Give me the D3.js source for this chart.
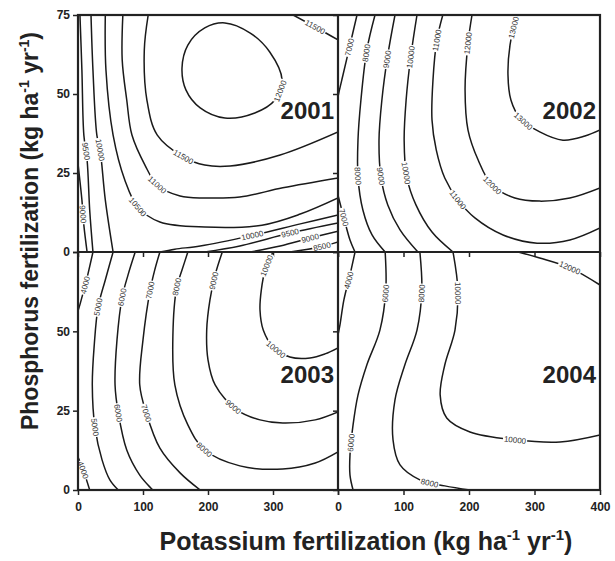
<!DOCTYPE html>
<html>
<head>
<meta charset="utf-8">
<script src="https://cdn.jsdelivr.net/npm/d3@7"></script>
<style>
  body { margin: 0; background: #fff; }
  svg { font-family: "Liberation Sans", Arial, sans-serif; }
</style>
</head>
<body>
<svg id="chart"></svg>
<script>
const width = 615;
const height = 561;

// panel edges in pixels
const xLeft = 78, xMid = 338, xRight = 600;
const yTop = 15, yMid = 252, yBottom = 490;

const years = ["2001", "2002", "2003", "2004"];
const kTicks = [0, 100, 200, 300, 400];
const pTicks = [0, 25, 50, 75];

// contour lines: [level, [[K, P], ...], closed]
const contours2001 = [
  [12000, [[160,58.2],[169,65.5],[195,70.9],[226,72.5],[265,69.3],[295,63.3],[314,54.4],[303,48.1],[272,44],[226,42.4],[188,45.6],[166,51.3]], true],
  [11500, [[331,75],[365,71.2],[400,67.1]]],
  [11500, [[108,75],[102,63.9],[106,48.1],[122,37],[162,30.1],[195,27.5],[234,27.2],[311,30.7],[400,38]]],
  [11000, [[69,75],[68,60.8],[75,48.1],[83,37],[103,27.5],[122,21.2],[157,17.7],[195,17.1],[249,17.4],[315,20.3],[400,23.4]]],
  [10500, [[42,75],[43,57.6],[54,37],[72,22.8],[92,14.2],[126,9.5],[195,7.9],[283,8.5],[342,12],[400,17.1]]],
  [10000, [[20,75],[23,57.6],[29,37],[34,32.3],[42,16.5],[54,0]]],
  [10000, [[126,0],[149,0.9],[188,1.9],[265,5.1],[342,8.9],[400,11.7]]],
  [9500, [[3,75],[6,57.6],[9,37],[14,29.1],[18,13.3],[23,0]]],
  [9500, [[195,0],[249,1.9],[326,6],[400,9.2]]],
  [9000, [[0,28],[6,16.5],[9,8.5],[14,0]]],
  [9000, [[265,0],[311,1.9],[357,4.4],[400,6.6]]],
  [8500, [[326,0],[372,1.6],[400,3.2]]]
];
const labels2001 = [
  [11500, 365, 71.2], [12000, 310, 51], [11500, 162, 30.1], [11000, 122, 21.2],
  [10500, 92, 14.2], [9500, 14, 32], [10000, 34, 32.3], [9000, 8, 12],
  [10000, 268, 5.2], [9500, 326, 6], [9000, 357, 4.4], [8500, 375, 1.8]
];

const contours2002 = [
  [7000, [[29,75],[18.3,65.5],[7.6,56],[1.5,50.6],[0,49]]],
  [7000, [[0,18],[9,10.8],[18.3,3.8],[26,0]]],
  [8000, [[56.5,75],[44,63.9],[35,48.1],[30.5,35.4],[30.5,23.7],[38,13.3],[52,5.4],[72,0]]],
  [9000, [[87,75],[76,62.3],[67,48.1],[62.6,35.4],[65.6,23.7],[76,14.9],[94.7,7],[122,0]]],
  [10000, [[120.6,75],[111,61.7],[104,48.1],[101,35.4],[105,23.7],[119,14.9],[143.5,6.3],[175.6,0]]],
  [11000, [[160,75],[151,67.1],[145,54.4],[143.5,41.8],[150,32.3],[163,23.4],[183,16.5],[209,10.8],[252,5.4],[304,2.8],[354,3.8],[400,7.6]]],
  [12000, [[204.6,75],[198.5,66.1],[194,51.3],[198.5,38.6],[214,29.1],[235,21.2],[270,17.1],[308,16.1],[354,17.1],[400,20.3]]],
  [13000, [[273,75],[262.6,65.5],[259.5,56],[264,48.1],[278,42.4],[308,38],[343.5,35.4],[377,36.7],[400,38.6]]]
];
const labels2002 = [
  [7000, 13.7, 65], [8000, 41, 63], [9000, 75, 61], [10000, 110, 61.7],
  [11000, 151, 67], [12000, 199, 66], [13000, 268, 71], [13000, 283, 41.5],
  [8000, 30.5, 24], [9000, 65, 24], [10000, 104, 25], [11000, 180, 16],
  [12000, 235, 21], [7000, 10, 11]
];

const contours2003 = [
  [4000, [[23,75],[15,67.8],[9,63],[1.5,57.4],[0,56.5]]],
  [4000, [[0,10.4],[8,6.3],[18,0]]],
  [5000, [[54,75],[42,66.2],[31,57.7],[25,45.7],[22,33.1],[26,19.9],[37,9.5],[49,3.2],[62,0]]],
  [6000, [[88,75],[77,67.8],[68,60.8],[60,47.3],[57,33.1],[62,24.3],[75,12.6],[95,4.7],[115,0]]],
  [7000, [[126,75],[118,69.3],[111,63],[100,47.3],[95,33.1],[105,24.3],[126,13.2],[157,5.4],[188,0]]],
  [8000, [[169,75],[160,69.3],[152,64],[146,48.8],[149,33.1],[169,20.5],[195,12.6],[249,7.6],[315,6.6],[365,8.5],[400,12]]],
  [9000, [[222,75],[211,67.8],[203,59.9],[198,50.4],[200,41],[211,33.1],[245,25.2],[280,22.1],[315,21.1],[365,22.1],[400,24.6]]],
  [10000, [[300,75],[288,69.3],[282,63],[280,56.7],[285,50.4],[300,45.1],[326,41.9],[357,41.6],[380,42.9],[400,44.8]]]
];
const labels2003 = [
  [4000, 11, 64.6], [5000, 31, 57.7], [6000, 68, 60.8], [7000, 111, 63],
  [8000, 152, 64], [9000, 209, 66], [10000, 292, 70.5], [10000, 303, 44],
  [5000, 26, 19.9], [6000, 62, 24.3], [7000, 106, 24.3], [8000, 195, 13],
  [9000, 238, 26], [4000, 8, 6.3]
];

const contours2004 = [
  [4000, [[26,75],[18.3,67.8],[9,59.9],[3,52],[0,48.8]]],
  [6000, [[72,75],[73,63],[64,50.4],[44,39.4],[30.5,29.9],[23,20.5],[18.3,11],[18.3,4.7],[23,0]]],
  [8000, [[125,75],[128,63],[120.6,50.4],[102,39.4],[87,28.4],[84,15.8],[94.7,7.9],[125,3.2],[163,1.3],[201.5,0]]],
  [10000, [[175.6,75],[183,63],[178.6,50.4],[163,39.4],[156,29.9],[166,22.7],[201.5,18.3],[270,15.8],[339,15.1],[400,17.3]]],
  [12000, [[275,75],[308,73.1],[354,70],[400,64.6]]]
];
const labels2004 = [
  [4000, 18, 66], [6000, 73, 62], [8000, 128, 62], [10000, 183, 62],
  [12000, 354, 70], [6000, 18, 15], [8000, 140, 2.5], [10000, 270, 15.8]
];

const panels = [
  { year: years[0], x0: xLeft, x1: xMid, y0: yTop, y1: yMid, lines: contours2001, labels: labels2001, col: 0, row: 0 },
  { year: years[1], x0: xMid, x1: xRight, y0: yTop, y1: yMid, lines: contours2002, labels: labels2002, col: 1, row: 0 },
  { year: years[2], x0: xLeft, x1: xMid, y0: yMid, y1: yBottom, lines: contours2003, labels: labels2003, col: 0, row: 1 },
  { year: years[3], x0: xMid, x1: xRight, y0: yMid, y1: yBottom, lines: contours2004, labels: labels2004, col: 1, row: 1 }
];

const svg = d3.select("#chart").attr("width", width).attr("height", height);

panels.forEach((p, i) => {
  const x = d3.scaleLinear().domain([0, 400]).range([p.x0, p.x1]);
  const y = d3.scaleLinear().domain([0, 75]).range([p.y1, p.y0]);

  svg.append("clipPath").attr("id", "clip" + i)
    .append("rect")
    .attr("x", p.x0).attr("y", p.y0)
    .attr("width", p.x1 - p.x0).attr("height", p.y1 - p.y0);

  const g = svg.append("g").attr("clip-path", "url(#clip" + i + ")");

  const open = d3.line().x(d => x(d[0])).y(d => y(d[1])).curve(d3.curveCatmullRom.alpha(0.5));
  const closed = d3.line().x(d => x(d[0])).y(d => y(d[1])).curve(d3.curveCatmullRomClosed.alpha(0.5));

  const paths = g.selectAll("path.contour")
    .data(p.lines)
    .enter()
    .append("path")
    .attr("class", "contour")
    .attr("fill", "none")
    .attr("stroke", "#1a1a1a")
    .attr("stroke-width", 1.5)
    .attr("d", d => (d[2] ? closed : open)(d[1]));

  // contour labels, rotated along the line with a white gap behind
  p.labels.forEach(([level, k, pv]) => {
    const px = x(k), py = y(pv);
    let best = null;
    paths.each(function (d) {
      if (d[0] !== level) return;
      const len = this.getTotalLength();
      for (let s = 0; s <= len; s += 0.5) {
        const pt = this.getPointAtLength(s);
        const dist = (pt.x - px) ** 2 + (pt.y - py) ** 2;
        if (!best || dist < best.dist) best = { dist, s, node: this, len };
      }
    });
    if (!best) return;
    const pt = best.node.getPointAtLength(best.s);
    const a0 = best.node.getPointAtLength(Math.max(0, best.s - 5));
    const a1 = best.node.getPointAtLength(Math.min(best.len, best.s + 5));
    let ang = Math.atan2(a1.y - a0.y, a1.x - a0.x) * 180 / Math.PI;
    if (ang > 90) ang -= 180;
    if (ang <= -90) ang += 180;

    const lg = g.append("g")
      .attr("transform", `translate(${pt.x},${pt.y}) rotate(${ang})`);
    const bg = lg.append("rect").attr("fill", "#fff");
    const t = lg.append("text")
      .attr("text-anchor", "middle")
      .attr("dy", "0.35em")
      .attr("font-size", 8)
      .attr("fill", "#333")
      .text(level);
    const w = t.node().getComputedTextLength() + 2;
    bg.attr("x", -w / 2).attr("y", -3.5).attr("width", w).attr("height", 7);
  });

  // year label
  svg.append("text")
    .attr("x", p.x1 - 4)
    .attr("y", p.y0 + (p.row === 0 ? 104 : 131))
    .attr("text-anchor", "end")
    .attr("font-size", 24)
    .attr("font-weight", "bold")
    .attr("fill", "#222")
    .text(p.year);

  // axes (ticks pointing outward)
  const yAxis = d3.axisLeft(y).tickValues(pTicks).tickSize(5).tickPadding(3)
    .tickFormat(d => (p.col === 0 && !(p.row === 1 && d === 75)) ? d : "");
  const xAxis = d3.axisBottom(x).tickValues(kTicks).tickSize(5).tickPadding(7)
    .tickFormat(d => (p.row === 1 && !(p.col === 0 && d === 400)) ? d : "");

  const ya = svg.append("g").attr("transform", `translate(${p.x0},0)`).call(yAxis);
  const xa = svg.append("g").attr("transform", `translate(0,${p.y1})`).call(xAxis);
  [ya, xa].forEach(a => {
    a.select(".domain").remove();
    a.selectAll("line").attr("stroke", "#222").attr("stroke-width", 1.5);
    a.selectAll("text")
      .attr("font-family", "Liberation Sans, Arial, sans-serif")
      .attr("font-size", 12)
      .attr("font-weight", "bold")
      .attr("fill", "#222");
  });
});

// panel frames
svg.append("rect")
  .attr("x", xLeft).attr("y", yTop)
  .attr("width", xRight - xLeft).attr("height", yBottom - yTop)
  .attr("fill", "none").attr("stroke", "#222").attr("stroke-width", 2.2);
svg.append("line")
  .attr("x1", xMid).attr("x2", xMid).attr("y1", yTop).attr("y2", yBottom)
  .attr("stroke", "#222").attr("stroke-width", 2.2);
svg.append("line")
  .attr("x1", xLeft).attr("x2", xRight).attr("y1", yMid).attr("y2", yMid)
  .attr("stroke", "#222").attr("stroke-width", 2.2);

// axis titles
const xTitle = svg.append("text")
  .attr("x", 366).attr("y", 550)
  .attr("text-anchor", "middle")
  .attr("font-size", 25)
  .attr("font-weight", "bold")
  .attr("fill", "#222");
xTitle.append("tspan").text("Potassium fertilization (kg ha");
xTitle.append("tspan").attr("font-size", 15).attr("dy", -10).text("-1");
xTitle.append("tspan").attr("dy", 10).text(" yr");
xTitle.append("tspan").attr("font-size", 15).attr("dy", -10).text("-1");
xTitle.append("tspan").attr("dy", 10).text(")");

const yTitle = svg.append("text")
  .attr("transform", "translate(38,231) rotate(-90)")
  .attr("text-anchor", "middle")
  .attr("font-size", 23)
  .attr("font-weight", "bold")
  .attr("fill", "#222");
yTitle.append("tspan").text("Phosphorus fertilization (kg ha");
yTitle.append("tspan").attr("font-size", 14).attr("dy", -9).text("-1");
yTitle.append("tspan").attr("dy", 9).text(" yr");
yTitle.append("tspan").attr("font-size", 14).attr("dy", -9).text("-1");
yTitle.append("tspan").attr("dy", 9).text(")");
</script>
</body>
</html>
